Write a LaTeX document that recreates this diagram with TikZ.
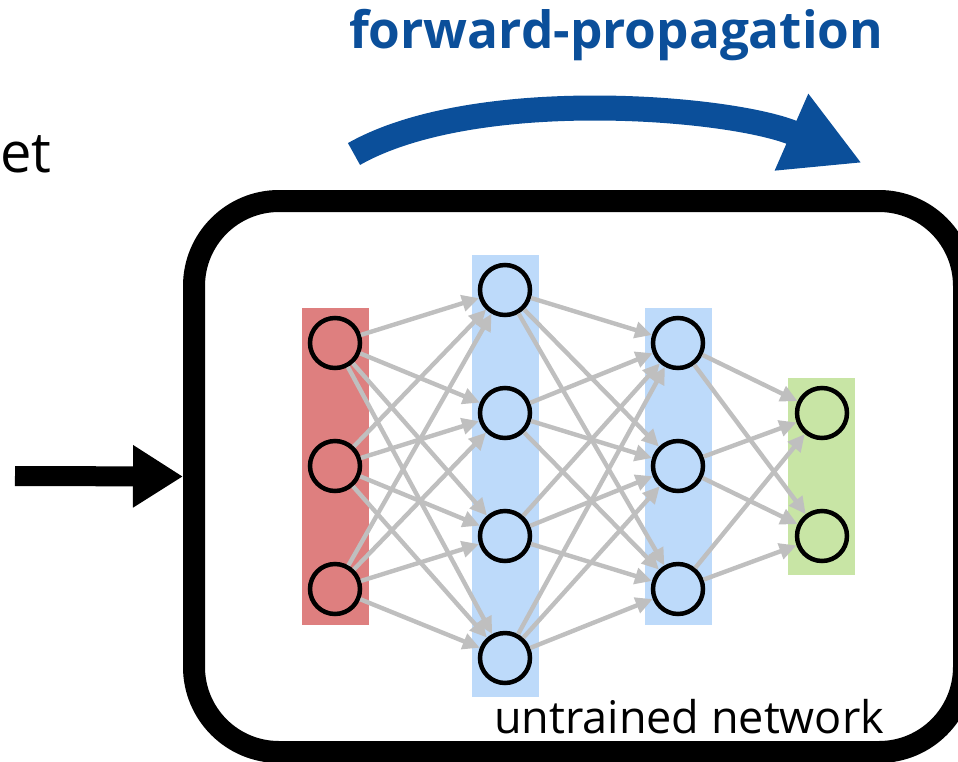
\documentclass[tikz,border=0pt]{standalone}
\usepackage{fontspec}
\setmainfont{Open Sans}
\usetikzlibrary{arrows.meta}
\definecolor{fpblue}{RGB}{11,79,154}
\definecolor{lred}{RGB}{222,127,127}
\definecolor{lblue}{RGB}{189,218,250}
\definecolor{lgreen}{RGB}{200,229,165}
\definecolor{egray}{RGB}{191,191,191}
\begin{document}
\begin{tikzpicture}[x=1pt,y=-1pt,
  neuron/.style={circle,draw=black,fill=#1,line width=4.5pt,minimum size=50pt,inner sep=0pt},
  layerbg/.style={fill=#1,draw=none,minimum width=67pt,inner sep=0pt,outer sep=0pt},
  edge/.style={draw=egray,line width=4.4pt,-{Triangle[length=17pt,width=16pt]}},
  txt/.style={inner sep=0pt,outer sep=0pt}
]
\useasboundingbox (0,0) rectangle (958,761);

% outer box
\node[draw=black,line width=22pt,rounded corners=85pt,minimum width=770pt,minimum height=551pt,inner sep=0pt] (net) at (579,476.5) {};

% layer backgrounds
\node[layerbg=lred,minimum height=317pt] (bg1) at (335.5,466.5) {};
\node[layerbg=lblue,minimum height=442pt] (bg2) at (505.5,476) {};
\node[layerbg=lblue,minimum height=317pt] (bg3) at (678.5,466.5) {};
\node[layerbg=lgreen,minimum height=197pt] (bg4) at (821.5,476.5) {};

% neurons
\node[neuron=lred] (l1n1) at (335,343) {};
\node[neuron=lred] (l1n2) at (335,466) {};
\node[neuron=lred] (l1n3) at (335,589) {};
\node[neuron=lblue] (l2n1) at (505,290) {};
\node[neuron=lblue] (l2n2) at (505,413) {};
\node[neuron=lblue] (l2n3) at (505,536) {};
\node[neuron=lblue] (l2n4) at (505,658) {};
\node[neuron=lblue] (l3n1) at (678,343) {};
\node[neuron=lblue] (l3n2) at (678,466) {};
\node[neuron=lblue] (l3n3) at (678,589) {};
\node[neuron=lgreen] (l4n1) at (822,413) {};
\node[neuron=lgreen] (l4n2) at (822,536) {};

% connections
\foreach \a in {1,2,3}{\foreach \b in {1,2,3,4}{\draw[edge] (l1n\a) -- (l2n\b);}}
\foreach \a in {1,2,3,4}{\foreach \b in {1,2,3}{\draw[edge] (l2n\a) -- (l3n\b);}}
\foreach \a in {1,2,3}{\foreach \b in {1,2}{\draw[edge] (l3n\a) -- (l4n\b);}}

% input arrow
\coordinate (inS) at (15,476);
\draw[line width=20pt,-{Triangle[length=50pt,width=59pt]}] (inS) -- (net.west);

% forward-propagation arrow
\coordinate (fpS) at (354,154);
\coordinate (fpE) at (862,163);
\draw[fpblue,line width=25pt,-{Triangle[length=77pt,width=78pt]}] (fpS) .. controls (476,85) and (734,107) .. (fpE);

% texts
\node[txt,anchor=base west,font=\fontsize{56}{56}\selectfont] (et) at (0.5,172) {et};
\node[txt,anchor=base west,font=\fontsize{45}{45}\selectfont] (lbl) at (494,733) {untrained network};
\node[txt,anchor=base west,text=fpblue,font=\bfseries\fontsize{51.3}{51.3}\selectfont] (fp) at (349,48) {forward-propagation};
\end{tikzpicture}
\end{document}
